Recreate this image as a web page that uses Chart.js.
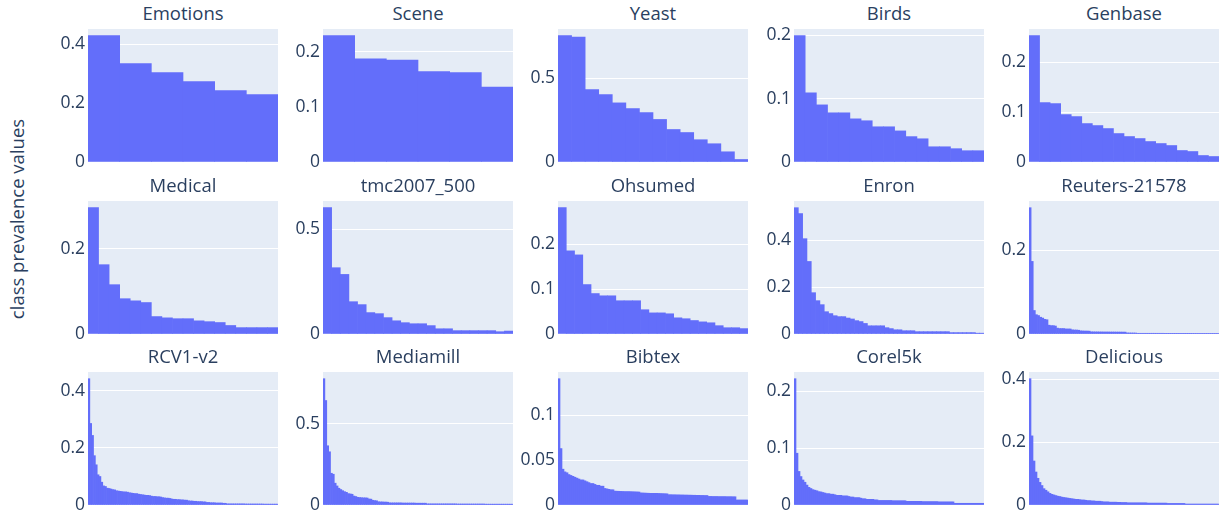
<!DOCTYPE html>
<html>
<head>
<meta charset="utf-8">
<title>class prevalence values</title>
<script src="https://cdn.jsdelivr.net/npm/chart.js"></script>
<style>
  body { margin: 0; background: #fff; font-family: "Open Sans", sans-serif; color: #2a3f5f; }
  #fig { position: relative; width: 1221px; height: 514px; overflow: hidden; }
  #fig canvas { position: absolute; }
  .title { position: absolute; text-align: center; font-size: 18.5px; line-height: 24px; white-space: nowrap; }
  #ytitle { position: absolute; width: 300px; height: 24px; line-height: 24px; text-align: center;
            font-size: 18.5px; transform: rotate(-90deg); white-space: nowrap; }
</style>
</head>
<body>
<div id="fig">
  <div id="ytitle">class prevalence values</div>
</div>

<script>
// sorted class prevalence per dataset
const emotions = [0.429, 0.334, 0.304, 0.273, 0.243, 0.229];
const scene = [0.229, 0.187, 0.185, 0.164, 0.162, 0.136];
const yeast = [0.754, 0.746, 0.432, 0.402, 0.353, 0.319, 0.295, 0.254, 0.194, 0.176, 0.133, 0.109, 0.061, 0.015];
const birds = [0.199, 0.109, 0.090, 0.0775, 0.0775, 0.068, 0.065, 0.0555, 0.0555, 0.049, 0.040, 0.0366,
  0.024, 0.024, 0.021, 0.0178, 0.0178];
const genbase = [0.253, 0.119, 0.117, 0.095, 0.091, 0.077, 0.073, 0.067, 0.057, 0.051, 0.047, 0.041,
  0.037, 0.033, 0.023, 0.021, 0.013, 0.011];

const medical = [0.297, 0.163, 0.116, 0.083, 0.078, 0.074, 0.041, 0.038, 0.036, 0.036, 0.031, 0.029,
  0.027, 0.020, 0.015, 0.015, 0.015, 0.015];
const tmc2007 = [0.602, 0.316, 0.284, 0.154, 0.140, 0.102, 0.097, 0.078, 0.063, 0.054, 0.049, 0.049,
  0.040, 0.025, 0.025, 0.016, 0.016, 0.016, 0.016, 0.016, 0.011, 0.014];
const ohsumed = [0.281, 0.185, 0.176, 0.110, 0.090, 0.085, 0.085, 0.074, 0.074, 0.074, 0.054, 0.047,
  0.047, 0.045, 0.036, 0.034, 0.030, 0.027, 0.025, 0.0185, 0.014, 0.014, 0.012];
const enron = [0.538, 0.513, 0.406, 0.309, 0.176, 0.142, 0.125, 0.095, 0.087, 0.078, 0.074, 0.074,
  0.068, 0.064, 0.057, 0.053, 0.045, 0.035, 0.035, 0.035, 0.035, 0.027, 0.023, 0.018, 0.018, 0.014,
  0.014, 0.014, 0.010, 0.010, 0.010, 0.010, 0.010, 0.010, 0.010, 0.010, 0.006, 0.006, 0.006, 0.006,
  0.006, 0.006, 0.0035, 0.0035];
const reuters = [0.301, 0.173, 0.056, 0.046, 0.044, 0.040, 0.038, 0.035, 0.034,
  0.021, 0.020, 0.020, 0.019,
  0.014, 0.013, 0.013, 0.013, 0.012, 0.012, 0.012,
  0.010, 0.0095, 0.0095, 0.009,
  0.0075, 0.0072, 0.007, 0.007, 0.0068,
  0.0052, 0.0051, 0.0050, 0.0050, 0.0049, 0.0049, 0.0048, 0.0048, 0.0048, 0.0047, 0.0047, 0.0047,
  0.0046, 0.0046, 0.0046, 0.0045, 0.0045,
  0.0026, 0.0025, 0.0024, 0.0024, 0.0023,
  0.0017, 0.0017, 0.0017, 0.0017, 0.0017, 0.0017, 0.0017, 0.0017, 0.0017, 0.0017, 0.0017, 0.0017, 0.0017,
  0.0016, 0.0016, 0.0016, 0.0016, 0.0016, 0.0016, 0.0016, 0.0016, 0.0016, 0.0016, 0.0016, 0.0016, 0.0016,
  0.0009, 0.0009, 0.0009, 0.0009, 0.0009, 0.0009, 0.0009, 0.0009, 0.0009, 0.0009, 0.0009, 0.0009, 0.0009];

const rcv1 = [0.443, 0.286, 0.244, 0.173, 0.141, 0.106, 0.100, 0.080, 0.067, 0.065,
  0.059, 0.058, 0.056, 0.054, 0.053,
  0.050, 0.049, 0.048, 0.047, 0.046, 0.046, 0.045,
  0.043, 0.042, 0.041, 0.040, 0.040,
  0.038, 0.037, 0.036, 0.035, 0.034, 0.034, 0.033,
  0.031, 0.030, 0.030, 0.029, 0.029, 0.028,
  0.026, 0.025, 0.024, 0.024, 0.023,
  0.021, 0.020, 0.020, 0.019, 0.019, 0.018, 0.018, 0.017, 0.017,
  0.015, 0.014, 0.014, 0.013, 0.013, 0.012, 0.012, 0.012, 0.011, 0.011,
  0.009, 0.009, 0.008, 0.008, 0.008, 0.007, 0.007, 0.007, 0.007, 0.006, 0.006,
  0.004, 0.004, 0.004, 0.004, 0.004, 0.004, 0.004, 0.004, 0.004, 0.004,
  0.0035, 0.0035, 0.0035, 0.0035, 0.0035, 0.0035, 0.0035, 0.0035, 0.0035, 0.0035,
  0.003, 0.003, 0.003, 0.003, 0.003, 0.003, 0.003, 0.003];
const mediamill = [0.776, 0.642, 0.364, 0.327, 0.195, 0.189, 0.134, 0.117, 0.103, 0.095, 0.088, 0.082, 0.078,
  0.070, 0.068, 0.066, 0.055, 0.052,
  0.047, 0.046, 0.045, 0.044, 0.044, 0.043, 0.037, 0.036,
  0.029, 0.027, 0.026, 0.020, 0.019, 0.019, 0.018, 0.018, 0.017,
  0.013, 0.013, 0.013, 0.013, 0.013, 0.013, 0.013, 0.012, 0.012, 0.012, 0.012, 0.012, 0.012, 0.012,
  0.011, 0.011, 0.011, 0.011, 0.011, 0.011,
  0.007, 0.007, 0.007, 0.007, 0.007, 0.007, 0.007, 0.007, 0.007, 0.007, 0.007, 0.007, 0.007, 0.007, 0.007, 0.007,
  0.006, 0.006, 0.006, 0.006, 0.006, 0.006, 0.006, 0.006, 0.006, 0.006, 0.006, 0.006, 0.006, 0.006, 0.006,
  0.005, 0.005, 0.005, 0.005, 0.005, 0.005, 0.005, 0.005, 0.005, 0.005, 0.005, 0.005, 0.005, 0.005, 0.005];
const bibtex = [0.141, 0.063, 0.040, 0.037, 0.036, 0.034, 0.033, 0.032, 0.031, 0.030, 0.029, 0.028, 0.028,
  0.027, 0.026, 0.025, 0.024, 0.024, 0.023, 0.022, 0.022, 0.021, 0.021,
  0.0185, 0.018, 0.0175, 0.017, 0.017,
  0.0155, 0.0154, 0.0153, 0.0152, 0.0151, 0.015, 0.015, 0.015, 0.0149, 0.0148, 0.0147, 0.0146, 0.0145,
  0.0135, 0.0134, 0.0133, 0.0132, 0.0131, 0.013, 0.013, 0.013, 0.013, 0.0129, 0.0128, 0.0127, 0.0126, 0.0125,
  0.0115, 0.0115, 0.0114, 0.0114, 0.0113, 0.0113, 0.0112, 0.0112, 0.0111, 0.0111,
  0.011, 0.011, 0.0109, 0.0109, 0.0108, 0.0108, 0.0107, 0.0107, 0.0106, 0.0106,
  0.0096, 0.0096, 0.0095, 0.0095, 0.0095, 0.0094, 0.0094, 0.0094, 0.0094, 0.0093, 0.0093, 0.0093, 0.0092, 0.0092,
  0.0056, 0.0056, 0.0056, 0.0056, 0.0056, 0.0056];
const corel5k = [0.222, 0.091, 0.059, 0.050, 0.044, 0.040, 0.035, 0.031, 0.029, 0.027, 0.026, 0.025, 0.0235,
  0.023, 0.022, 0.021, 0.020, 0.020, 0.019, 0.019,
  0.018, 0.017, 0.017, 0.017, 0.016, 0.016, 0.016, 0.015,
  0.014, 0.014, 0.013, 0.013, 0.013, 0.012,
  0.011, 0.011, 0.010, 0.010, 0.010, 0.010, 0.009, 0.009,
  0.008, 0.008, 0.008, 0.008, 0.008, 0.008, 0.008, 0.0075, 0.0075, 0.0075, 0.0075, 0.0075, 0.0075, 0.0075,
  0.0065, 0.0065, 0.0065, 0.0065, 0.0065, 0.0065, 0.0065, 0.0065,
  0.006, 0.006, 0.006, 0.006, 0.006, 0.006, 0.006, 0.006,
  0.0055, 0.0055, 0.0055, 0.0055, 0.0055, 0.0055, 0.0055, 0.0055,
  0.003, 0.003, 0.003, 0.003, 0.003, 0.003, 0.003, 0.003, 0.003, 0.003, 0.003, 0.003, 0.003, 0.003, 0.003];
const delicious = [0.402, 0.22, 0.14, 0.105, 0.085, 0.072, 0.062, 0.052, 0.047, 0.042,
  0.037, 0.034, 0.032, 0.030, 0.028, 0.027,
  0.025, 0.024, 0.023, 0.022, 0.021,
  0.020, 0.019, 0.018, 0.018, 0.017, 0.016, 0.016,
  0.015, 0.014, 0.014, 0.013, 0.013, 0.012, 0.012, 0.012, 0.011,
  0.010, 0.010, 0.010, 0.009, 0.009, 0.009, 0.009, 0.0085, 0.0085, 0.008, 0.008, 0.008,
  0.007, 0.007, 0.007, 0.007, 0.007, 0.007, 0.007, 0.007, 0.007, 0.007,
  0.006, 0.006, 0.006, 0.006, 0.006, 0.006, 0.006, 0.006, 0.006, 0.006,
  0.005, 0.005, 0.005, 0.005, 0.005, 0.005, 0.005, 0.005, 0.005,
  0.003, 0.003, 0.003, 0.003, 0.003, 0.003, 0.003, 0.003, 0.003, 0.003, 0.003, 0.003, 0.003, 0.003, 0.003, 0.003, 0.003];

// y tick labels per panel
const ticks02 = [0, 0.2, 0.4];
const ticks01 = [0, 0.1, 0.2];
const ticks05 = [0, 0.5];
const ticks02short = [0, 0.2];
const ticksBibtex = [0, 0.05, 0.1];

const titles = ['Emotions', 'Scene', 'Yeast', 'Birds', 'Genbase',
  'Medical', 'tmc2007_500', 'Ohsumed', 'Enron', 'Reuters-21578',
  'RCV1-v2', 'Mediamill', 'Bibtex', 'Corel5k', 'Delicious'];
const series = [emotions, scene, yeast, birds, genbase,
  medical, tmc2007, ohsumed, enron, reuters,
  rcv1, mediamill, bibtex, corel5k, delicious];
const tickSets = [ticks02, ticks01, ticks05, ticks01, ticks01,
  ticks02short, ticks05, ticks01, ticks02, ticks02short,
  ticks02, ticks05, ticksBibtex, ticks01, ticks02];

// layout (px)
const colLeft = [88, 323, 558, 794, 1029];
const rowTop = [29, 201, 372];
const PLOT_W = 190, PLOT_H = 133;
const AXIS_W = 48, PAD = 14;

const fig = document.getElementById('fig');
const yt = document.getElementById('ytitle');
yt.style.left = (16.5 - 150) + 'px';
yt.style.top = (219 - 12) + 'px';

const plotBg = {
  id: 'plotBg',
  beforeDraw(chart) {
    const { ctx, chartArea: a } = chart;
    ctx.save();
    ctx.fillStyle = '#e5ecf6';
    ctx.fillRect(a.left, a.top, a.right - a.left, a.bottom - a.top);
    ctx.restore();
  }
};

series.forEach((values, k) => {
  const col = k % 5, row = Math.floor(k / 5);
  const left = colLeft[col], top = rowTop[row];

  const t = document.createElement('div');
  t.className = 'title';
  t.textContent = titles[k];
  t.style.left = left + 'px';
  t.style.width = PLOT_W + 'px';
  t.style.top = (top - 28) + 'px';
  fig.appendChild(t);

  const cv = document.createElement('canvas');
  cv.width = AXIS_W + PLOT_W;
  cv.height = PLOT_H + 2 * PAD;
  cv.style.left = (left - AXIS_W) + 'px';
  cv.style.top = (top - PAD) + 'px';
  fig.appendChild(cv);

  const tk = tickSets[k];
  new Chart(cv, {
    type: 'bar',
    data: {
      labels: values.map((v, i) => i),
      datasets: [{
        data: values,
        backgroundColor: '#636efa',
        borderWidth: 0,
        categoryPercentage: 1,
        barPercentage: 1
      }]
    },
    options: {
      responsive: false,
      animation: false,
      devicePixelRatio: 1,
      layout: { padding: { top: PAD, bottom: PAD, left: 0, right: 0 } },
      plugins: { legend: { display: false }, tooltip: { enabled: false } },
      scales: {
        x: { display: false },
        y: {
          min: 0,
          max: Math.max(...values) * 1.053,
          afterBuildTicks: ax => { ax.ticks = tk.map(v => ({ value: v })); },
          afterFit: ax => { ax.width = AXIS_W; },
          border: { display: false },
          grid: {
            drawTicks: false,
            lineWidth: 1,
            color: ctx => (ctx.tick && ctx.tick.value === 0) ? 'rgba(0,0,0,0)' : '#ffffff'
          },
          ticks: {
            padding: 3,
            color: '#2a3f5f',
            font: { family: 'Open Sans', size: 17.5 },
            callback: v => String(v)
          }
        }
      }
    },
    plugins: [plotBg]
  });
});
</script>
</body>
</html>
